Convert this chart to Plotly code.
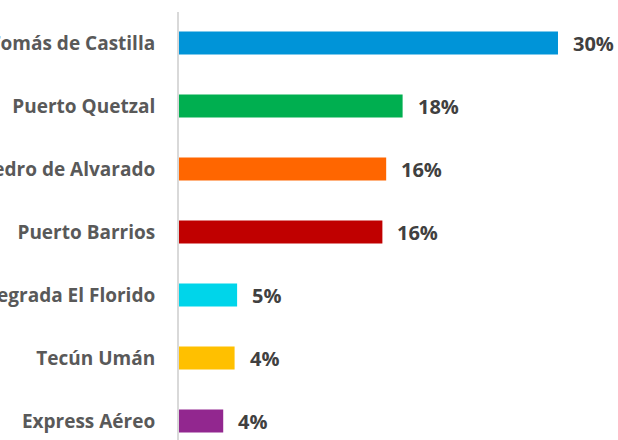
import plotly.graph_objects as go

categories = ["Santo Tomás de Castilla", "Puerto Quetzal", "Pedro de Alvarado",
              "Puerto Barrios", "Integrada El Florido", "Tecún Umán", "Express Aéreo"]
values = [30.0, 17.7, 16.4, 16.1, 4.6, 4.4, 3.5]
labels = ["30%", "18%", "16%", "16%", "5%", "4%", "4%"]
colors = ["#0094D8", "#00AF50", "#FF6600", "#C00000", "#00D5EA", "#FFC000", "#92278F"]

fig = go.Figure()
fig.add_trace(go.Bar(
    x=values, y=categories, orientation="h",
    marker=dict(color=colors, line=dict(width=0)),
    width=0.365, hoverinfo="skip",
))

for v, c, t in zip(values, categories, labels):
    fig.add_annotation(x=v, y=c, text=t, showarrow=False, xanchor="left",
                       xshift=13, yshift=-1,
                       font=dict(family="Open Sans", size=20, color="#404040", weight="bold"))

fig.update_layout(
    width=618, height=440,
    margin=dict(l=179, r=0, t=12, b=0, autoexpand=False),
    paper_bgcolor="white", plot_bgcolor="white",
    showlegend=False,
    xaxis=dict(range=[0, 34.75], visible=False, showgrid=False, zeroline=False),
    yaxis=dict(
        type="category", categoryorder="array", categoryarray=categories,
        range=[6.302, -0.492], automargin=False,
        showline=True, linecolor="#D9D9D9", linewidth=2,
        ticks="", ticklabelstandoff=18,
        tickfont=dict(family="Open Sans", size=19, color="#595959", weight="bold"),
        showgrid=False, zeroline=False,
    ),
)

fig.write_html("out.html",
               config={"displayModeBar": False},
               post_script="document.body.style.margin='0';document.body.style.overflow='hidden';")
